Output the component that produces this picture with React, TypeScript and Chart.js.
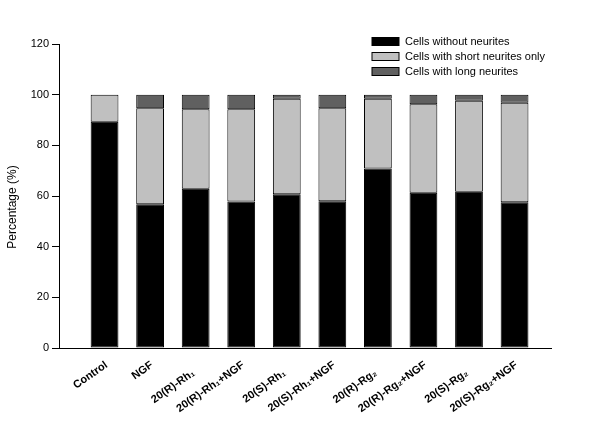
import React, { useEffect, useRef } from "react";
import { Chart, registerables } from "chart.js";

Chart.register(...registerables);

const categories = [
  "Control",
  "NGF",
  "20(R)-Rh₁",
  "20(R)-Rh₁+NGF",
  "20(S)-Rh₁",
  "20(S)-Rh₁+NGF",
  "20(R)-Rg₂",
  "20(R)-Rg₂+NGF",
  "20(S)-Rg₂",
  "20(S)-Rg₂+NGF",
];

const withoutNeurites = [89.3, 56.7, 62.9, 57.8, 60.7, 57.9, 70.9, 61.3, 61.7, 57.5];
const shortNeurites = [10.7, 37.9, 31.3, 36.4, 37.7, 36.7, 27.5, 34.9, 35.9, 39.3];
const longNeurites = [null, 5.4, 5.8, 5.8, 1.6, 5.4, 1.6, 3.8, 2.4, 3.2];

const seriesLabels = [
  "Cells without neurites",
  "Cells with short neurites only",
  "Cells with long neurites",
];
const seriesColors = ["#000000", "#c0c0c0", "#606060"];

const yTicks = [0, 20, 40, 60, 80, 100, 120];
const yTitle = "Percentage (%)";

// style: labels ending in a subscript sit a little lower in the original
const LABEL_DROP = [0, 0, 1, 0, 1, 0, 1, 0, 1, 0];

const FONT = "Arial, 'Liberation Sans', sans-serif";

export default function App() {
  const ref = useRef<HTMLCanvasElement | null>(null);

  useEffect(() => {
    if (!ref.current) return;
    const toXY = (arr: (number | null)[]) =>
      arr.map((v, i) => ({ x: i + 1, y: v }));
    const series = [withoutNeurites, shortNeurites, longNeurites];

    const overlay = {
      id: "overlay",
      afterDraw(chart: any) {
        const ctx = chart.ctx;
        // y title
        ctx.save();
        ctx.translate(13, 207);
        ctx.rotate(-Math.PI / 2);
        ctx.fillStyle = "#000";
        ctx.font = `12px ${FONT}`;
        ctx.textAlign = "center";
        ctx.textBaseline = "middle";
        ctx.fillText(yTitle, 0, 0);
        ctx.restore();
        // x labels
        const xs = chart.scales.x;
        categories.forEach((lab, i) => {
          const px = xs.getPixelForValue(i + 1);
          const d = LABEL_DROP[i];
          ctx.save();
          ctx.translate(px + 2 - 4 * d, xs.top + 16 + 8 * d);
          ctx.rotate((-35 * Math.PI) / 180);
          ctx.fillStyle = "#000";
          ctx.font = `bold 11px ${FONT}`;
          ctx.textAlign = "right";
          ctx.textBaseline = "middle";
          ctx.fillText(lab, 0, 0);
          ctx.restore();
        });
        // legend
        ctx.save();
        ctx.font = `11px ${FONT}`;
        ctx.textBaseline = "middle";
        ctx.textAlign = "left";
        seriesLabels.forEach((lab, i) => {
          const y = 37.5 + 15 * i;
          ctx.fillStyle = seriesColors[i];
          ctx.fillRect(372, y, 27, 8);
          ctx.strokeStyle = "#000";
          ctx.lineWidth = 1;
          ctx.strokeRect(372, y, 27, 8);
          ctx.fillStyle = "#000";
          ctx.fillText(lab, 405, y + 4);
        });
        ctx.restore();
      },
    };

    const chart = new Chart(ref.current, {
      type: "bar",
      data: {
        datasets: series.map((s, i) => ({
          label: seriesLabels[i],
          data: toXY(s),
          backgroundColor: seriesColors[i],
          borderColor: "#000",
          borderWidth: 1,
          borderSkipped: false,
          barPercentage: 1,
          categoryPercentage: 0.61,
        })),
      },
      options: {
        responsive: false,
        animation: false,
        layout: { padding: { top: 44, right: 49, left: 0, bottom: 0 } },
        plugins: {
          legend: { display: false },
          tooltip: { enabled: false },
        },
        scales: {
          x: {
            type: "linear",
            stacked: true,
            offset: false,
            min: 0,
            max: 10.8,
            grid: { display: false, drawTicks: false },
            border: { display: true, color: "#000", width: 1 },
            afterBuildTicks: (scale: any) => {
              scale.ticks = categories.map((_, i) => ({ value: i + 1 }));
            },
            afterFit: (scale: any) => {
              scale.height = 91;
            },
            ticks: { display: false },
          },
          y: {
            stacked: true,
            min: 0,
            max: 120,
            afterBuildTicks: (scale: any) => {
              scale.ticks = yTicks.map((v) => ({ value: v }));
            },
            afterFit: (scale: any) => {
              scale.width = 59;
            },
            grid: {
              display: true,
              drawOnChartArea: false,
              drawTicks: true,
              tickLength: 7,
              color: "#000",
            },
            border: { display: true, color: "#000", width: 1 },
            ticks: {
              padding: 3,
              color: "#000",
              font: { family: FONT, size: 11 },
            },
          },
        },
      },
      plugins: [overlay],
    } as any);
    return () => chart.destroy();
  }, []);

  return (
    <div style={{ position: "fixed", left: 0, top: 0, width: 600, height: 439, background: "#fff" }}>
      <canvas ref={ref} width={600} height={439} style={{ display: "block" }} />
    </div>
  );
}
